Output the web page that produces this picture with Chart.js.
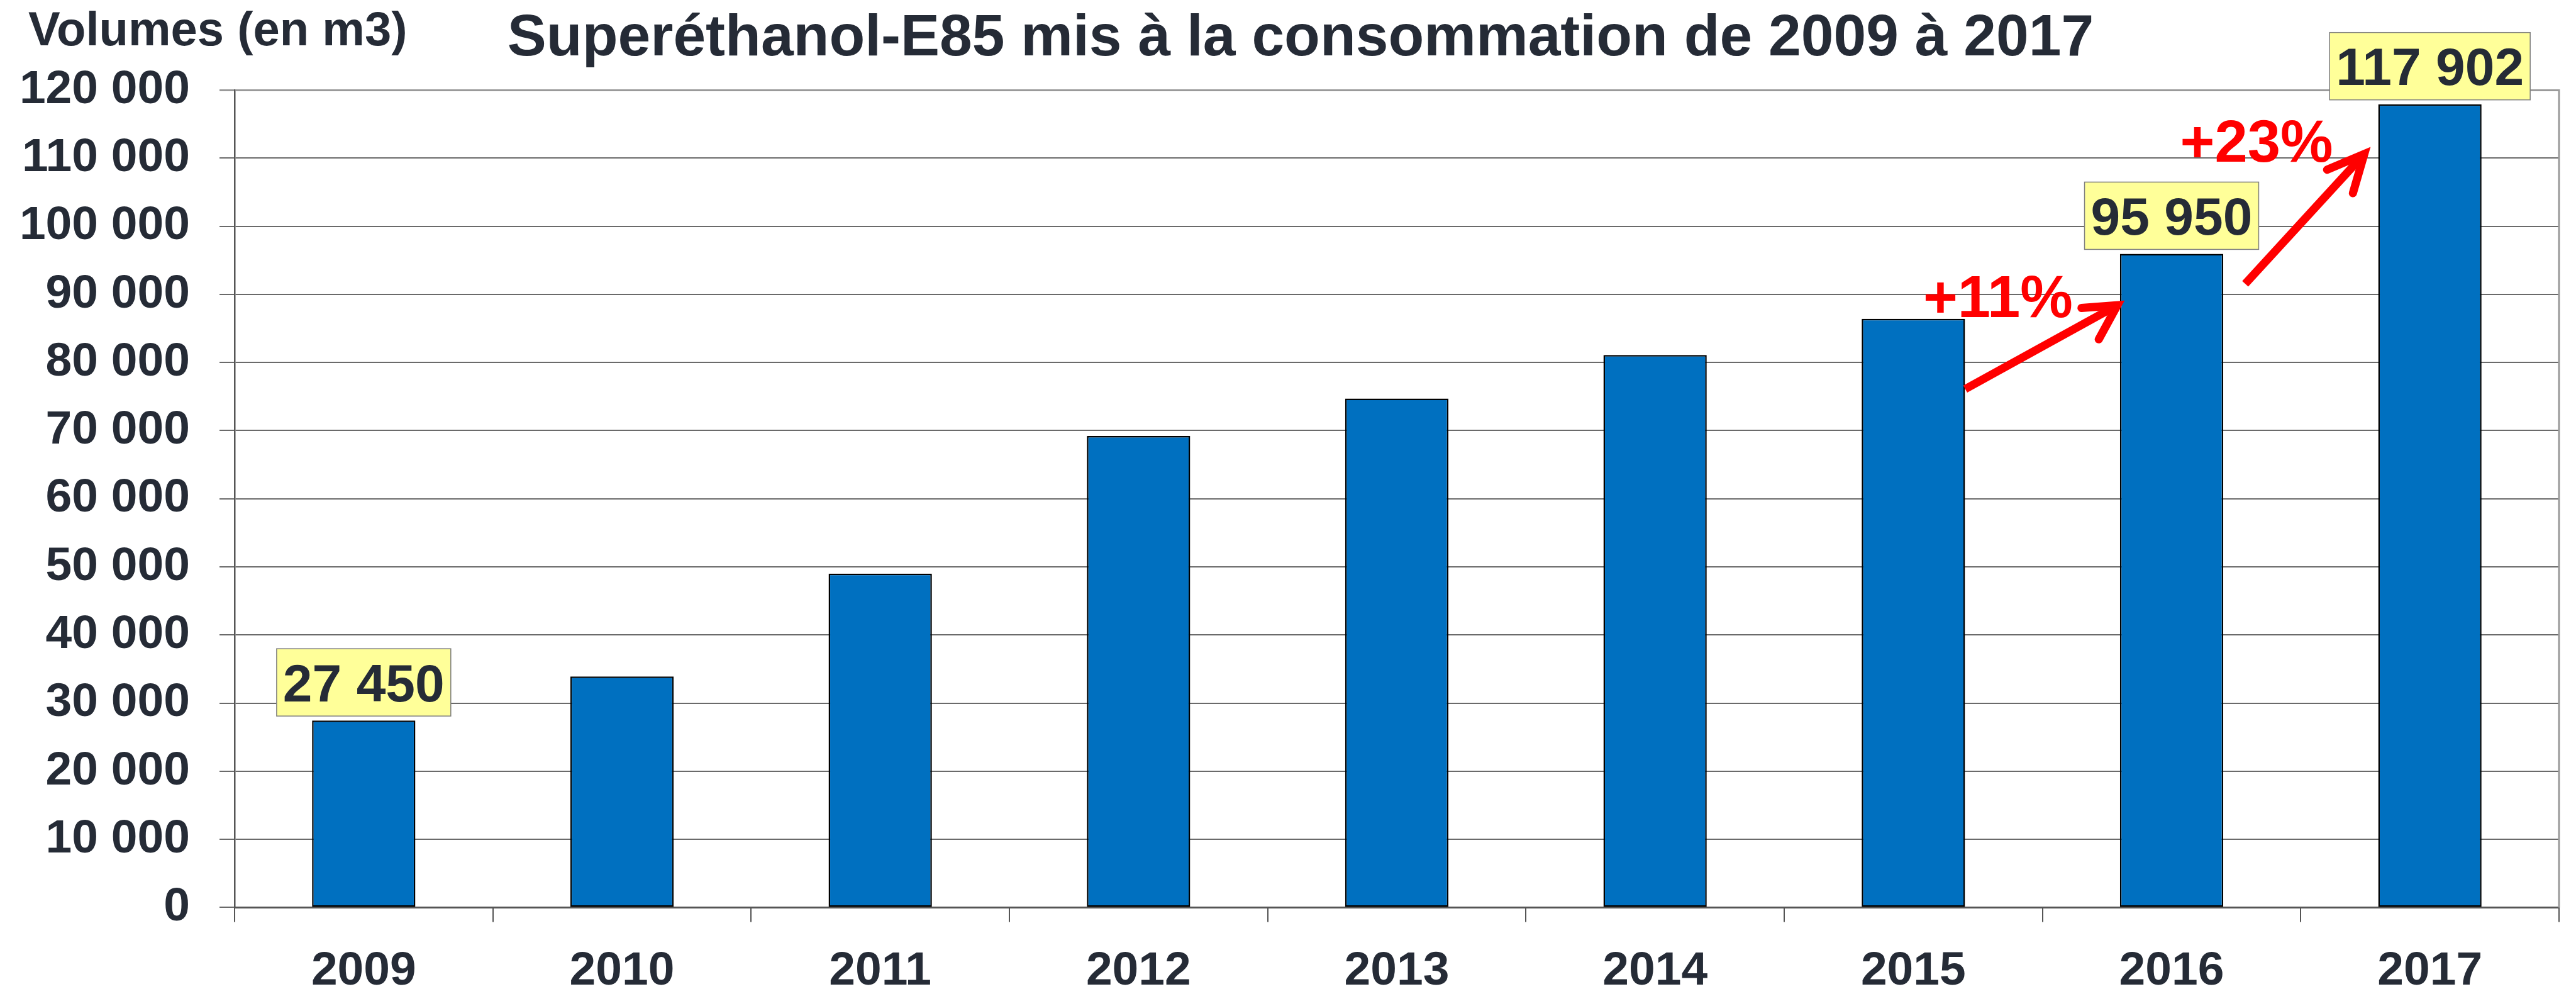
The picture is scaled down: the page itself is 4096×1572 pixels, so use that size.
<!DOCTYPE html>
<html>
<head>
<meta charset="utf-8">
<script src="https://cdn.jsdelivr.net/npm/chart.js@4.4.1/dist/chart.umd.min.js"></script>
<style>
  html, body { margin: 0; padding: 0; background: #fff; overflow: hidden; }
  canvas { display: block; }
</style>
</head>
<body>
<canvas id="chart" width="4096" height="1572"></canvas>
<script>
// data
const years = ["2009", "2010", "2011", "2012", "2013", "2014", "2015", "2016", "2017"];
const volumes = [27450, 33900, 49000, 69200, 74700, 81100, 86400, 95950, 117902];
const yMin = 0;
const yMax = 120000;
const yStep = 10000;
const boxedYears = ["2009", "2016", "2017"];
const growthTexts = ["+11%", "+23%"];

const titleText = "Superéthanol-E85 mis à la consommation de 2009 à 2017";
const unitText = "Volumes (en m3)";

const ink = "#252b36";
const fontFamily = '"Liberation Sans", Arial, sans-serif';

const fmt = (v) => String(v).replace(/\B(?=(\d{3})+(?!\d))/g, " ");

// arrows, in (category index, value) coordinates
const arrows = [
  { tail: [6.201, 76100], tip: [6.79, 88400], wings: [[6.651, 88000], [6.718, 83400]] },
  { tail: [7.285, 91550], tip: [7.746, 110600], wings: [[7.602, 108300], [7.702, 104850]] },
];
const growthAnchors = [[6.038, 86700], [7.033, 109450]];

const overlay = {
  id: "overlay",
  afterDraw(chart) {
    const { ctx, chartArea: a, scales } = chart;
    const x = scales.x, y = scales.y;
    const P = (pt) => [x.getPixelForValue(pt[0]), y.getPixelForValue(pt[1])];
    ctx.save();

    // right border of the plot
    ctx.strokeStyle = "#9a9a9a";
    ctx.lineWidth = 3;
    ctx.beginPath();
    ctx.moveTo(a.right, a.top - 1);
    ctx.lineTo(a.right, a.bottom);
    ctx.stroke();

    // title and unit
    ctx.fillStyle = ink;
    ctx.textBaseline = "alphabetic";
    ctx.font = "bold 93px " + fontFamily;
    ctx.textAlign = "center";
    ctx.fillText(titleText, 2068, 88);
    ctx.font = "bold 76px " + fontFamily;
    ctx.textAlign = "left";
    ctx.fillText(unitText, 45, 72);

    // value boxes
    const meta = chart.getDatasetMeta(0);
    ctx.font = "bold 84px " + fontFamily;
    boxedYears.forEach((yr) => {
      const i = years.indexOf(yr);
      const bar = meta.data[i];
      const txt = fmt(volumes[i]);
      const w = ctx.measureText(txt).width + 20;
      const h = 107;
      const bottom = bar.y - 7;
      const left = bar.x - w / 2;
      ctx.fillStyle = "#ffff99";
      ctx.fillRect(left, bottom - h, w, h);
      ctx.strokeStyle = "#7f7f7f";
      ctx.lineWidth = 1.5;
      ctx.strokeRect(left, bottom - h, w, h);
      ctx.fillStyle = ink;
      ctx.textAlign = "center";
      ctx.fillText(txt, bar.x, bottom - h / 2 + 30);
    });

    // growth arrows
    ctx.strokeStyle = "#ff0000";
    ctx.lineWidth = 13;
    arrows.forEach((ar) => {
      const t = P(ar.tail), p = P(ar.tip);
      const w1 = P(ar.wings[0]), w2 = P(ar.wings[1]);
      ctx.lineCap = "butt";
      ctx.beginPath();
      ctx.moveTo(t[0], t[1]);
      ctx.lineTo(p[0], p[1]);
      ctx.stroke();
      ctx.lineCap = "round";
      ctx.lineJoin = "miter";
      ctx.beginPath();
      ctx.moveTo(w1[0], w1[1]);
      ctx.lineTo(p[0], p[1]);
      ctx.lineTo(w2[0], w2[1]);
      ctx.stroke();
    });

    ctx.fillStyle = "#ff0000";
    ctx.font = "bold 94px " + fontFamily;
    ctx.textAlign = "left";
    growthTexts.forEach((txt, i) => {
      const q = P(growthAnchors[i]);
      ctx.fillText(txt, q[0], q[1]);
    });

    ctx.restore();
  },
};

new Chart(document.getElementById("chart"), {
  type: "bar",
  data: {
    labels: years,
    datasets: [
      {
        data: volumes,
        backgroundColor: "#0070c0",
        borderColor: "#000000",
        borderWidth: 2.5,
        borderSkipped: false,
        categoryPercentage: 1,
        barPercentage: 0.4,
      },
    ],
  },
  options: {
    responsive: false,
    animation: false,
    devicePixelRatio: 1,
    layout: { padding: { top: 143, left: 0, right: 27, bottom: 0 } },
    plugins: {
      legend: { display: false },
      title: { display: false },
      tooltip: { enabled: false },
    },
    scales: {
      x: {
        afterFit: (s) => { s.height = 129.6; },
        grid: {
          drawOnChartArea: false,
          tickLength: 23,
          color: "#555555",
          lineWidth: 2,
        },
        border: { color: "#555555", width: 3 },
        ticks: {
          color: ink,
          padding: 34,
          font: { family: fontFamily, size: 75, weight: "bold" },
        },
      },
      y: {
        min: yMin,
        max: yMax,
        afterFit: (s) => { s.width = 373; },
        grid: {
          tickLength: 24,
          color: (c) => (c.tick && c.tick.value === yMax ? "#9a9a9a" : "#6a6a6a"),
          lineWidth: (c) => (c.tick && c.tick.value === yMax ? 3 : 2),
        },
        border: { color: "#555555", width: 2.5 },
        ticks: {
          stepSize: yStep,
          color: ink,
          padding: 47,
          font: { family: fontFamily, size: 75, weight: "bold" },
          callback: (v) => fmt(v),
        },
      },
    },
  },
  plugins: [overlay],
});
</script>
</body>
</html>
